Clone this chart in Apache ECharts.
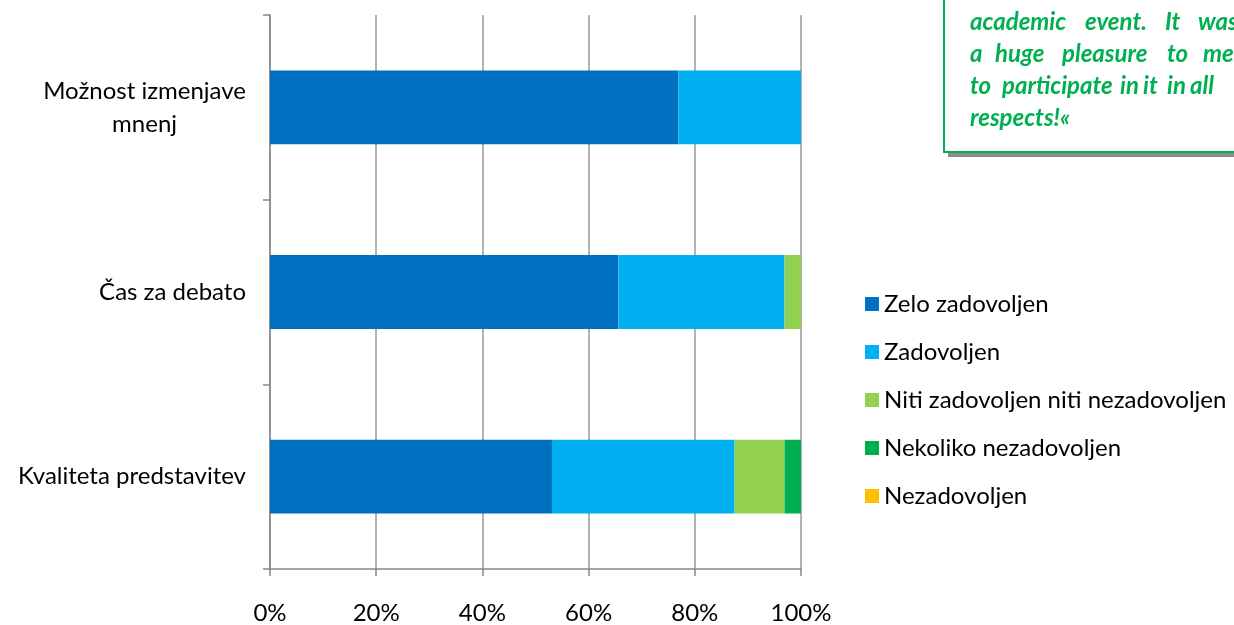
<!DOCTYPE html>
<html>
<head>
<meta charset="utf-8">
<script src="https://cdn.jsdelivr.net/npm/echarts@6/dist/echarts.min.js"></script>
<style>html,body{margin:0;padding:0;background:#fff;}#c{width:1234px;height:625px;}</style>
</head>
<body>
<div id="c"></div>
<script>
const categories = ['Kvaliteta predstavitev', 'Čas za debato', 'Možnost izmenjave\nmnenj'];
const seriesNames = ['Zelo zadovoljen', 'Zadovoljen', 'Niti zadovoljen niti nezadovoljen', 'Nekoliko nezadovoljen', 'Nezadovoljen'];
const zeloZadovoljen = [53.1, 65.6, 76.9];
const zadovoljen = [34.4, 31.3, 23.1];
const niti = [9.4, 3.1, 0];
const nekoliko = [3.1, 0, 0];
const nezadovoljen = [0, 0, 0];
const xTicks = [0, 20, 40, 60, 80, 100];
const quoteLines = [
  ['academic', 'event.', 'It', 'was'],
  ['a', 'huge', 'pleasure', 'to', 'me'],
  ['to', 'participate', 'in', 'it', 'in', 'all'],
  ['respects!«']
];
const colors = ['#0070C0', '#00B0F0', '#92D050', '#00B050', '#FFC000'];
const values = [zeloZadovoljen, zadovoljen, niti, nekoliko, nezadovoljen];

// word x-positions (layout only) to imitate the justified text box
const wordX = [
  [970, 1085, 1165, 1198],
  [970, 995, 1062, 1167, 1203],
  [970, 1002, 1120, 1143, 1167, 1190],
  [970]
];

const FONT = 'Lato';
const chart = echarts.init(document.getElementById('c'));
const graphics = [
  { type: 'rect', shape: { x: 948, y: -10, width: 300, height: 167 }, style: { fill: '#8c8c8c' }, z: 10 },
  { type: 'rect', shape: { x: 944, y: -10, width: 300, height: 162 }, style: { fill: '#fff', stroke: '#00B050', lineWidth: 2 }, z: 11 }
];
quoteLines.forEach((words, i) => {
  words.forEach((w, j) => {
    graphics.push({ type: 'text', x: wordX[i][j], y: 22 + i * 32, z: 12,
      style: { text: w, fill: '#00B050', font: 'italic bold 24px ' + FONT, textVerticalAlign: 'middle' } });
  });
});
chart.setOption({
  animation: false,
  textStyle: { fontFamily: FONT },
  color: colors,
  grid: { left: 270, right: 433, top: 15, bottom: 52, containLabel: false },
  legend: {
    orient: 'vertical', left: 860, top: 287, itemWidth: 14, itemHeight: 14, itemGap: 24,
    icon: 'rect', textStyle: { fontSize: 24, color: '#000', fontFamily: FONT, lineHeight: 24 },
    data: seriesNames
  },
  xAxis: {
    type: 'value', min: 0, max: 100, interval: 20,
    axisLine: { show: true, lineStyle: { color: '#888', width: 1.5 } },
    axisTick: { show: true, length: 7, lineStyle: { color: '#888', width: 1.5 } },
    splitLine: { show: true, lineStyle: { color: '#999', width: 1.5 } },
    axisLabel: { fontSize: 24, color: '#000', margin: 32, formatter: v => xTicks.includes(v) ? v + '%' : '' }
  },
  yAxis: {
    type: 'category', data: categories,
    axisLine: { show: true, lineStyle: { color: '#888', width: 1.5 } },
    axisTick: { show: true, length: 7, lineStyle: { color: '#888', width: 1.5 } },
    axisLabel: { fontSize: 24, color: '#000', margin: 24, align: 'right',
      formatter: v => v.split('\n').map(s => '{c|' + s + '}').join('\n'),
      rich: { c: { align: 'center', fontSize: 24, lineHeight: 33, color: '#000', fontFamily: FONT } } }
  },
  series: seriesNames.map((n, i) => ({
    name: n, type: 'bar', stack: 'total', barWidth: '40%', data: values[i],
    itemStyle: { color: colors[i] }
  })),
  graphic: graphics
});
</script>
</body>
</html>
